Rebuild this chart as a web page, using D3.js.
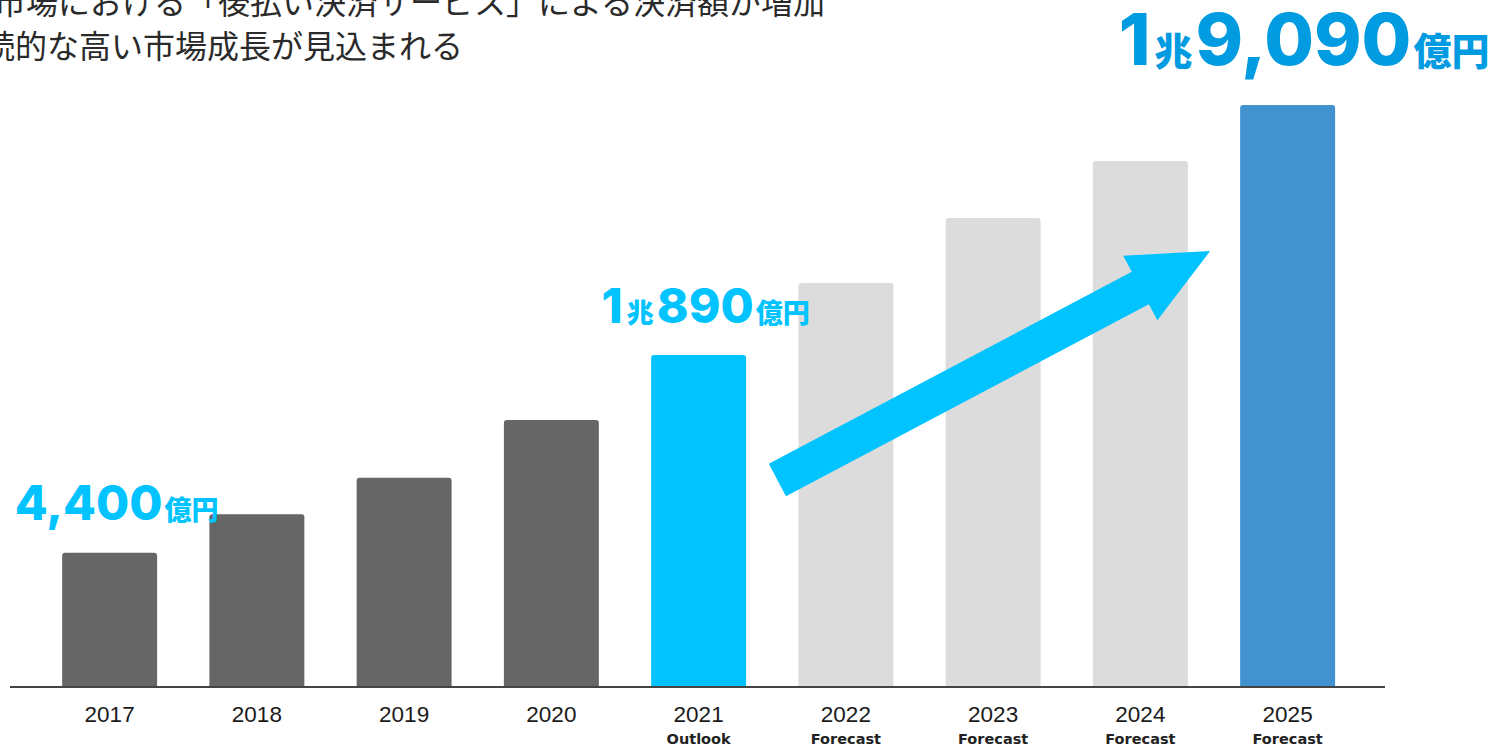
<!DOCTYPE html>
<html lang="ja">
<head>
<meta charset="utf-8">
<script src="https://cdn.jsdelivr.net/npm/d3@7"></script>
<style>
  html, body { margin: 0; padding: 0; background: #fff; }
  svg { display: block; }
</style>
</head>
<body>
<svg id="chart" width="1492" height="747"></svg>
<script>
// 後払い決済サービスの市場規模（億円）
const years = ["2017", "2018", "2019", "2020", "2021", "2022", "2023", "2024", "2025"];
const values = [4400, 5670, 6860, 8760, 10890, 13250, 15380, 17250, 19090];
const phases = ["actual", "actual", "actual", "actual", "outlook", "forecast", "forecast", "forecast", "target"];
const subLabels = ["", "", "", "", "Outlook", "Forecast", "Forecast", "Forecast", "Forecast"];
const calloutYears = ["2017", "2021", "2025"];
const headline = [
  "市場における「後払い決済サービス」による決済額が増加",
  "続的な高い市場成長が見込まれる"
];

const W = 1492, H = 747;
const baseY = 687;

const svg = d3.select("#chart");

const color = {
  actual: "#666666",
  outlook: "#00c3ff",
  forecast: "#dcdcdc",
  target: "#4292cf"
};

const x = d3.scaleBand()
  .domain(years)
  .range([36, 1361.25])
  .paddingInner(0.355)
  .paddingOuter(0.1775);

const y = d3.scaleLinear()
  .domain([0, d3.max(values)])
  .range([baseY, 105]);

// headline (left part runs past the page edge)
svg.append("text")
  .attr("x", -6).attr("y", 14)
  .attr("font-family", "'Noto Sans CJK JP', sans-serif")
  .attr("font-size", 32)
  .attr("fill", "#2a2a2a")
  .text(headline[0]);
svg.append("text")
  .attr("x", -17).attr("y", 58)
  .attr("font-family", "'Noto Sans CJK JP', sans-serif")
  .attr("font-size", 32)
  .attr("fill", "#2a2a2a")
  .text(headline[1]);

// bars with slightly rounded tops
function topRounded(x0, y0, w, h, r) {
  const p = d3.path();
  p.moveTo(x0, y0 + h);
  p.lineTo(x0, y0 + r);
  p.quadraticCurveTo(x0, y0, x0 + r, y0);
  p.lineTo(x0 + w - r, y0);
  p.quadraticCurveTo(x0 + w, y0, x0 + w, y0 + r);
  p.lineTo(x0 + w, y0 + h);
  p.closePath();
  return p.toString();
}

const data = years.map((yr, i) => ({ year: yr, value: values[i], phase: phases[i], sub: subLabels[i] }));

svg.append("g")
  .selectAll("path")
  .data(data)
  .join("path")
  .attr("d", d => topRounded(x(d.year), y(d.value), x.bandwidth(), baseY - y(d.value), 3))
  .attr("fill", d => color[d.phase]);

// baseline
svg.append("line")
  .attr("x1", 10).attr("x2", 1385)
  .attr("y1", baseY).attr("y2", baseY)
  .attr("stroke", "#444")
  .attr("stroke-width", 2);

// year axis
const axis = d3.axisBottom(x).tickSize(0).tickPadding(0);
const gAxis = svg.append("g").attr("transform", `translate(0,${baseY})`).call(axis);
gAxis.select(".domain").remove();
gAxis.selectAll(".tick text")
  .attr("y", 35)
  .attr("dy", 0)
  .attr("font-family", "'Liberation Sans', Arial, sans-serif")
  .attr("font-size", 22.5)
  .attr("fill", "#1a1a1a");
gAxis.selectAll(".tick")
  .append("text")
  .attr("y", 57)
  .attr("text-anchor", "middle")
  .attr("font-family", "'DejaVu Sans', sans-serif")
  .attr("font-weight", "bold")
  .attr("font-size", 14.5)
  .attr("fill", "#222")
  .text(d => subLabels[years.indexOf(d)]);

// growth arrow from 2022 toward the 2025 bar
(function drawArrow() {
  const tail = [x("2022") - 21, 480];
  const tip = [x("2025") - 30, 251];
  const dx = tip[0] - tail[0], dy = tip[1] - tail[1];
  const len = Math.hypot(dx, dy);
  const ux = dx / len, uy = dy / len;
  const nx = -uy, ny = ux;
  const shaft = 18.3, head = 36.5, headLen = 79;
  const bx = tip[0] - ux * headLen, by = tip[1] - uy * headLen;
  const pts = [
    [tail[0] + nx * shaft, tail[1] + ny * shaft],
    [bx + nx * shaft, by + ny * shaft],
    [bx + nx * head, by + ny * head],
    tip,
    [bx - nx * head, by - ny * head],
    [bx - nx * shaft, by - ny * shaft],
    [tail[0] - nx * shaft, tail[1] - ny * shaft]
  ];
  svg.append("path")
    .attr("d", d3.line()(pts) + "Z")
    .attr("fill", "#00c3ff");
})();

// value callouts
function splitValue(v) {
  const cho = Math.floor(v / 10000);
  const oku = v % 10000;
  return { cho, oku: cho > 0 ? d3.format(",")(oku) : d3.format(",")(v) };
}

const calloutStyle = {
  "2017": { big: 48, small: 27, fill: "#00c3ff", dx: 7, gap: 33 },
  "2021": { big: 48, small: 27, fill: "#00c3ff", dx: 7, gap: 32 },
  "2025": { big: 72, small: 38, fill: "#009be0", dx: 16.5, gap: 40 }
};

calloutYears.forEach(yr => {
  const v = values[years.indexOf(yr)];
  const s = calloutStyle[yr];
  const parts = splitValue(v);
  const t = svg.append("text")
    .attr("x", x(yr) + x.bandwidth() / 2 + s.dx)
    .attr("y", y(v) - s.gap)
    .attr("text-anchor", "middle")
    .attr("fill", s.fill)
    .attr("font-weight", 800);
  if (parts.cho > 0) {
    t.append("tspan").attr("font-family", "Inter, sans-serif").attr("font-size", s.big).text(parts.cho);
    t.append("tspan").attr("font-family", "'Noto Sans CJK JP', sans-serif").attr("font-size", s.small).attr("dx", 4).text("兆");
  }
  t.append("tspan").attr("font-family", "Inter, sans-serif").attr("font-size", s.big).attr("dx", parts.cho > 0 ? 3 : 0).text(parts.oku);
  t.append("tspan").attr("font-family", "'Noto Sans CJK JP', sans-serif").attr("font-size", s.small).attr("dx", 2).text("億円");
});
</script>
</body>
</html>
